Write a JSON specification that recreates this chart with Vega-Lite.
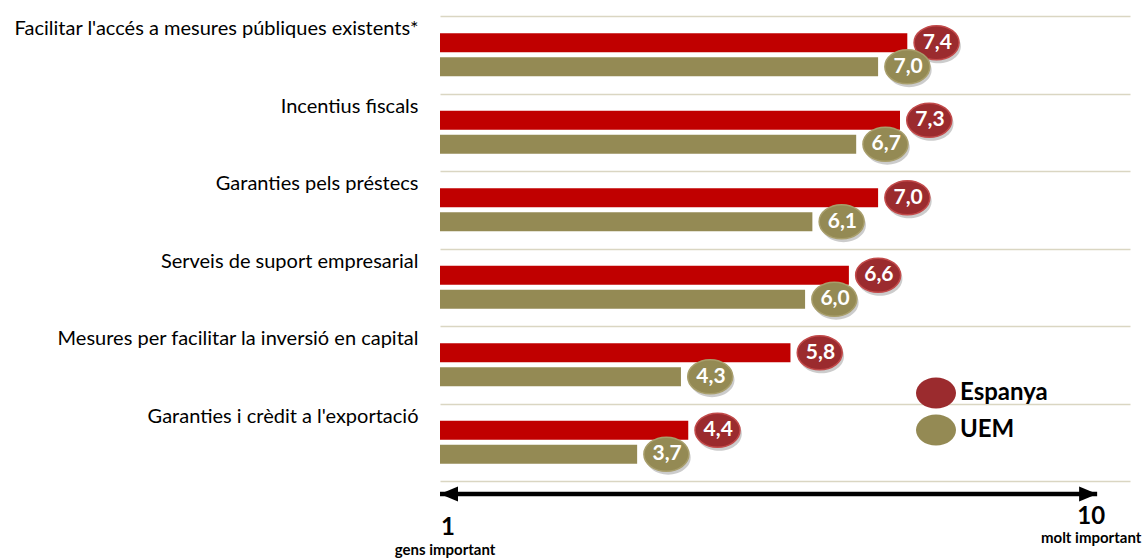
{
  "$schema": "https://vega.github.io/schema/vega-lite/v6.json",
  "width": 690,
  "height": 465,
  "autosize": {"type": "none"},
  "padding": {"left": 440, "top": 16, "right": 16, "bottom": 77},
  "background": "white",
  "config": {
    "view": {"stroke": null},
    "font": "Lato",
    "locale": {"number": {"decimal": ",", "thousands": ".", "grouping": [3], "currency": ["", " €"]}}
  },
  "datasets": {
    "scores": [
      {"cat": "Facilitar l'accés a mesures públiques existents*", "serie": "Espanya", "value": 7.4},
      {"cat": "Facilitar l'accés a mesures públiques existents*", "serie": "UEM", "value": 7.0},
      {"cat": "Incentius fiscals", "serie": "Espanya", "value": 7.3},
      {"cat": "Incentius fiscals", "serie": "UEM", "value": 6.7},
      {"cat": "Garanties pels préstecs", "serie": "Espanya", "value": 7.0},
      {"cat": "Garanties pels préstecs", "serie": "UEM", "value": 6.1},
      {"cat": "Serveis de suport  empresarial", "serie": "Espanya", "value": 6.6},
      {"cat": "Serveis de suport  empresarial", "serie": "UEM", "value": 6.0},
      {"cat": "Mesures per facilitar la inversió en capital", "serie": "Espanya", "value": 5.8},
      {"cat": "Mesures per facilitar la inversió en capital", "serie": "UEM", "value": 4.3},
      {"cat": "Garanties i crèdit a l'exportació", "serie": "Espanya", "value": 4.4},
      {"cat": "Garanties i crèdit a l'exportació", "serie": "UEM", "value": 3.7}
    ],
    "ends": [
      {"end": 1, "num": "1", "desc": "gens important"},
      {"end": 10, "num": "10", "desc": "molt important"}
    ]
  },
  "layer": [
    {
      "data": {"name": "scores"},
      "encoding": {
        "y": {
          "field": "cat", "type": "nominal", "sort": null,
          "scale": {"paddingInner": 0, "paddingOuter": 0},
          "axis": {
            "title": null, "domain": false, "ticks": false, "grid": true,
            "gridColor": "#DAD6C2", "gridWidth": 1.5, "tickBand": "extent",
            "labelFont": "Lato", "labelFontSize": 20, "labelColor": "#000000",
            "labelPadding": 22, "labelOffset": -26, "labelLimit": 600, "labelBaseline": "middle"
          }
        },
        "yOffset": {
          "field": "serie", "type": "nominal", "sort": ["Espanya", "UEM"],
          "scale": {"paddingInner": 0.208, "paddingOuter": 0.72}
        },
        "x": {
          "field": "value", "type": "quantitative",
          "scale": {"domain": [1, 10.45], "nice": false, "zero": false},
          "axis": null
        }
      },
      "layer": [
        {
          "mark": {"type": "bar"},
          "encoding": {
            "x2": {"datum": 1},
            "color": {
              "field": "serie", "type": "nominal",
              "scale": {"domain": ["Espanya", "UEM"], "range": ["#C00000", "#948A54"]},
              "legend": null
            }
          }
        },
        {
          "mark": {
            "type": "point", "filled": true, "size": 2025, "color": "#000000", "opacity": 0.2,
            "shape": "M 0.38 0.15 A 1 0.76 0 1 1 2.38 0.15 A 1 0.76 0 1 1 0.38 0.15 Z"
          }
        },
        {
          "mark": {
            "type": "point", "filled": true, "size": 2025, "opacity": 1, "strokeWidth": 1.5,
            "shape": "M 0.3 0 A 1 0.76 0 1 1 2.3 0 A 1 0.76 0 1 1 0.3 0 Z"
          },
          "encoding": {
            "stroke": {
              "field": "serie", "type": "nominal",
              "scale": {"domain": ["Espanya", "UEM"], "range": ["#C24A4A", "#A89E6B"]},
              "legend": null
            },
            "fill": {
              "field": "serie", "type": "nominal",
              "scale": {"range": ["#9B2B2E", "#948A54"]},
              "legend": {
                "orient": "none",
                "legendX": 476,
                "legendY": 357,
                "title": null,
                "symbolType": "M -1 0 A 1 0.78 0 1 1 1 0 A 1 0.78 0 1 1 -1 0 Z",
                "symbolSize": 1600,
                "symbolStrokeWidth": 0,
                "labelFont": "Lato",
                "labelFontSize": 24,
                "labelFontWeight": "bold",
                "labelColor": "#000000",
                "labelOffset": 4,
                "rowPadding": 1,
                "padding": 0
              }
            }
          }
        },
        {
          "mark": {"type": "text", "dx": 30, "fontSize": 21, "fontWeight": "bold", "color": "#FFFFFF", "baseline": "middle", "font": "Lato"},
          "encoding": {
            "text": {"field": "value", "type": "quantitative", "format": ".1f"}
          }
        }
      ]
    },
    {
      "data": {"name": "ends"},
      "layer": [
        {
          "mark": {"type": "rule", "color": "#000000", "strokeWidth": 4.5},
          "encoding": {
            "x": {"aggregate": "min", "field": "end", "type": "quantitative", "scale": {"domain": [1, 10.45], "nice": false, "zero": false}, "axis": null},
            "x2": {"aggregate": "max", "field": "end"},
            "y": {"datum": -0.028, "type": "quantitative", "scale": {"domain": [0, 1]}, "axis": null}
          }
        },
        {
          "mark": {"type": "point", "filled": true, "size": 324, "color": "#000000", "opacity": 1},
          "encoding": {
            "x": {"field": "end", "type": "quantitative", "scale": {"domain": [1, 10.45], "nice": false, "zero": false}, "axis": null},
            "y": {"datum": -0.028, "type": "quantitative", "scale": {"domain": [0, 1]}, "axis": null},
            "shape": {
              "field": "num", "type": "nominal",
              "scale": {"domain": ["1", "10"], "range": ["M 0 0 L 2 -0.83 L 2 0.83 Z", "M 0 0 L -2 -0.83 L -2 0.83 Z"]},
              "legend": null
            }
          }
        },
        {
          "transform": [{"filter": "datum.end == 1"}],
          "mark": {"type": "text", "fontSize": 24, "fontWeight": "bold", "color": "#000000", "baseline": "middle", "align": "center", "dx": 8, "font": "Lato"},
          "encoding": {
            "x": {"field": "end", "type": "quantitative", "scale": {"domain": [1, 10.45], "nice": false, "zero": false}, "axis": null},
            "y": {"datum": -0.101, "type": "quantitative", "scale": {"domain": [0, 1]}, "axis": null},
            "text": {"field": "num", "type": "nominal"}
          }
        },
        {
          "transform": [{"filter": "datum.end == 1"}],
          "mark": {"type": "text", "fontSize": 15, "fontWeight": "bold", "color": "#000000", "baseline": "middle", "align": "center", "dx": 5, "font": "Lato"},
          "encoding": {
            "x": {"field": "end", "type": "quantitative", "scale": {"domain": [1, 10.45], "nice": false, "zero": false}, "axis": null},
            "y": {"datum": -0.148, "type": "quantitative", "scale": {"domain": [0, 1]}, "axis": null},
            "text": {"field": "desc", "type": "nominal"}
          }
        },
        {
          "transform": [{"filter": "datum.end == 10"}],
          "mark": {"type": "text", "fontSize": 24, "fontWeight": "bold", "color": "#000000", "baseline": "middle", "align": "center", "dx": -6, "font": "Lato"},
          "encoding": {
            "x": {"field": "end", "type": "quantitative", "scale": {"domain": [1, 10.45], "nice": false, "zero": false}, "axis": null},
            "y": {"datum": -0.077, "type": "quantitative", "scale": {"domain": [0, 1]}, "axis": null},
            "text": {"field": "num", "type": "nominal"}
          }
        },
        {
          "transform": [{"filter": "datum.end == 10"}],
          "mark": {"type": "text", "fontSize": 15, "fontWeight": "bold", "color": "#000000", "baseline": "middle", "align": "center", "dx": -6, "font": "Lato"},
          "encoding": {
            "x": {"field": "end", "type": "quantitative", "scale": {"domain": [1, 10.45], "nice": false, "zero": false}, "axis": null},
            "y": {"datum": -0.1226, "type": "quantitative", "scale": {"domain": [0, 1]}, "axis": null},
            "text": {"field": "desc", "type": "nominal"}
          }
        }
      ]
    }
  ],
  "resolve": {"scale": {"y": "independent"}}
}
